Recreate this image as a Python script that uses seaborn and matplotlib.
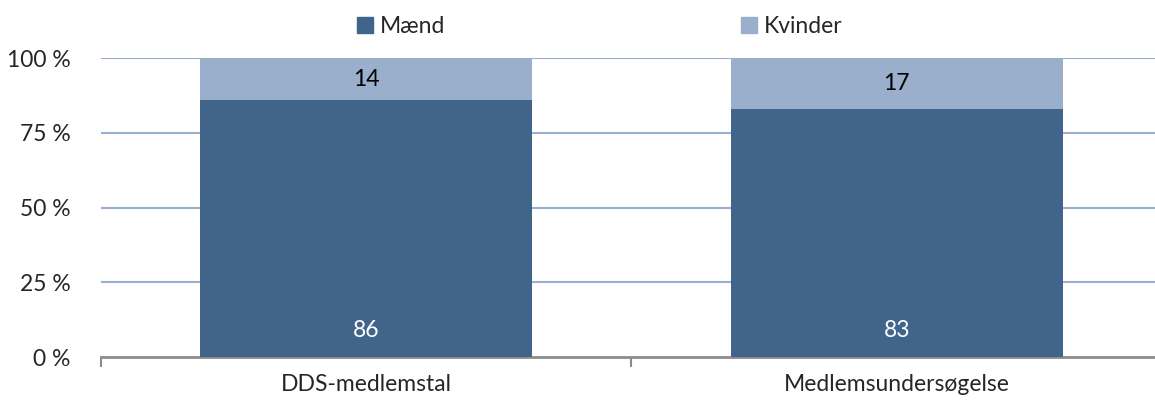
import numpy as np
import pandas as pd
import seaborn as sns
import matplotlib.pyplot as plt
from matplotlib.patches import Patch

kategorier = ["DDS-medlemstal", "Medlemsundersøgelse"]
maend = [86, 83]
kvinder = [14, 17]
yticks = [0, 25, 50, 75, 100]

dark = "#41648a"
light = "#9aafcb"

sns.set_style("white")
plt.rcParams["font.family"] = ["Lato", "DejaVu Sans"]

df = pd.DataFrame({"kat": kategorier, "Mænd": maend, "Kvinder": kvinder})
df["total"] = df["Mænd"] + df["Kvinder"]

fig = plt.figure(figsize=(11.55, 4.01), dpi=100)
ax = fig.add_axes([0.0874, 0.1097, 1.006 - 0.0874, 0.855 - 0.1097])

for y in yticks[1:]:
    ax.axhline(y, color="#9bb0cf", lw=1.5, zorder=0)

sns.barplot(data=df, x="kat", y="total", color=light, saturation=1, width=0.626,
            linewidth=0, ax=ax, zorder=2)
sns.barplot(data=df, x="kat", y="Mænd", color=dark, saturation=1, width=0.626,
            linewidth=0, ax=ax, zorder=3)

for i, (m, k) in enumerate(zip(maend, kvinder)):
    ax.text(i, 9, str(m), ha="center", va="center", color="white", fontsize=16.5, zorder=4)
    ax.text(i, m + k / 2, str(k), ha="center", va="center", color="black", fontsize=16.5, zorder=4)

ax.set_xlim(-0.5, 1.5)
ax.set_ylim(0, 100)
ax.set_yticks(yticks)
ax.set_yticklabels([f"{v} %" for v in yticks], fontsize=16.5)
ax.set_xticks([0, 1])
ax.set_xticklabels(kategorier, fontsize=16.5)
ax.set_xticks([-0.5, 0.5], minor=True)
ax.tick_params(axis="x", which="both", bottom=True)
ax.tick_params(axis="x", which="major", length=0, pad=12)
ax.tick_params(axis="x", which="minor", length=7, color="#8c8c8c", width=1.5, direction="out")
ax.tick_params(axis="y", length=0, pad=22)
ax.set_xlabel("")
ax.set_ylabel("")
for s in ["top", "right", "left"]:
    ax.spines[s].set_visible(False)
ax.spines["bottom"].set_color("#8c8c8c")
ax.spines["bottom"].set_linewidth(2)

handles = [Patch(color=dark, label="Mænd"), Patch(color=light, label="Kvinder")]
fig.legend(handles=handles, loc="center", bbox_to_anchor=(0.519, 0.935), ncol=2, frameon=False,
           fontsize=16.5, handlelength=0.7, handleheight=0.7, handletextpad=0.3, columnspacing=12.9)

fig.savefig("out.png", dpi=100)
